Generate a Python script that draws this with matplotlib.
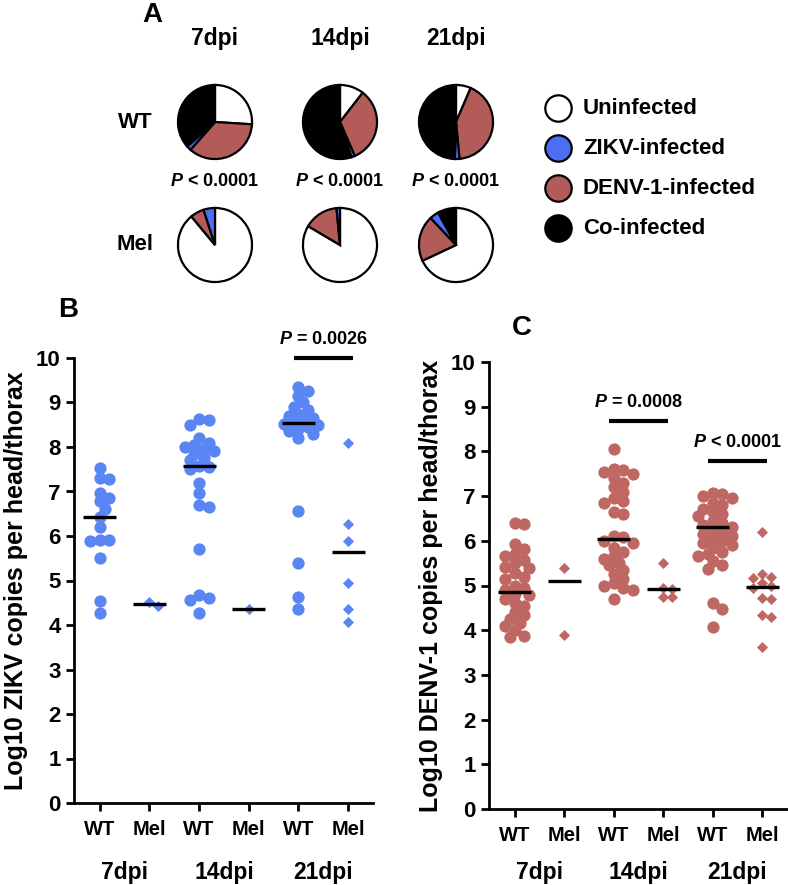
import numpy as np
import matplotlib
matplotlib.use('Agg')
import matplotlib.pyplot as plt

plt.rcParams['font.family'] = ['Liberation Sans', 'DejaVu Sans']
plt.rcParams['font.weight'] = 'bold'
plt.rcParams['axes.labelweight'] = 'bold'
plt.rcParams['mathtext.fontset'] = 'custom'
plt.rcParams['mathtext.bfit'] = 'Liberation Sans:italic:bold'

# ---- data ----
days = ['7dpi', '14dpi', '21dpi']
groups = ['WT', 'Mel', 'WT', 'Mel', 'WT', 'Mel']
pie_labels = ['Uninfected', 'ZIKV-infected', 'DENV-1-infected', 'Co-infected']

# pie fractions, clockwise from top: uninfected, DENV-1, ZIKV, co-infected
wt_pies = [[0.26, 0.355, 0.02, 0.365],
           [0.105, 0.33, 0.015, 0.55],
           [0.065, 0.42, 0.02, 0.495]]
mel_pies = [[0.89, 0.06, 0.05, 0.0],
            [0.835, 0.15, 0.015, 0.0],
            [0.68, 0.20, 0.04, 0.08]]
pie_p = ['< 0.0001', '< 0.0001', '< 0.0001']

zikv_wt_7 = [7.52, 7.30, 7.28, 6.97, 6.85, 6.78, 6.60, 6.42, 6.20, 5.92, 5.88, 5.90, 5.50, 4.55, 4.28]
zikv_mel_7 = [4.42, 4.52]
zikv_wt_14 = [8.62, 8.60, 8.50, 8.20, 8.10, 8.05, 8.00, 7.95, 7.90, 7.85, 7.75, 7.70, 7.57, 7.55,
              7.50, 7.20, 6.97, 6.70, 6.65, 5.71, 4.68, 4.60, 4.56, 4.28]
zikv_mel_14 = [4.37]
zikv_wt_21 = [9.35, 9.26, 9.15, 9.00, 8.90, 8.83, 8.75, 8.70, 8.65, 8.60, 8.55, 8.52, 8.50, 8.45,
              8.40, 8.35, 8.30, 8.20, 6.57, 5.40, 4.62, 4.35]
zikv_mel_21 = [8.08, 6.27, 5.89, 4.95, 4.36, 4.07]
zikv_lines = [6.42, 4.47, 7.57, 4.37, 8.54, 5.64]

denv_wt_7 = [6.39, 6.37, 5.93, 5.82, 5.70, 5.65, 5.58, 5.50, 5.42, 5.40, 5.28, 5.18, 5.15, 5.00,
             4.95, 4.90, 4.80, 4.78, 4.70, 4.60, 4.55, 4.40, 4.35, 4.25, 4.15, 4.10, 4.00, 3.88, 3.85]
denv_mel_7 = [5.39, 3.89]
denv_wt_14 = [8.05, 7.60, 7.58, 7.55, 7.50, 7.40, 7.30, 7.20, 7.10, 6.95, 6.90, 6.85, 6.65, 6.60,
              6.10, 6.08, 6.00, 5.95, 5.85, 5.75, 5.65, 5.60, 5.50, 5.45, 5.35, 5.25, 5.15, 5.05,
              5.00, 4.95, 4.90, 4.70]
denv_mel_14 = [5.50, 4.95, 4.93, 4.75, 4.74]
denv_wt_21 = [7.08, 7.05, 7.00, 6.95, 6.85, 6.80, 6.72, 6.65, 6.60, 6.55, 6.45, 6.40, 6.35, 6.30,
              6.25, 6.20, 6.15, 6.10, 6.05, 6.00, 5.95, 5.90, 5.85, 5.75, 5.70, 5.65, 5.55, 5.45,
              5.38, 4.60, 4.48, 4.07]
denv_mel_21 = [6.19, 5.26, 5.20, 5.17, 5.05, 5.00, 4.95, 4.72, 4.70, 4.34, 4.30, 3.62]
denv_lines = [4.85, 5.10, 6.04, 4.92, 6.31, 4.97]

zikv_p = [(4, 'P = 0.0026', 10.0)]
denv_p = [(2, 'P = 0.0008', 8.68), (4, 'P < 0.0001', 7.78)]

# ---- style ----
W, H = 788, 885
c_white, c_zikv, c_denv, c_co = 'white', '#4b6ef5', '#b35b58', 'black'
pie_colors = [c_white, c_denv, c_zikv, c_co]
dot_zikv = '#5a86f3'
dot_denv = '#bf6863'

fig = plt.figure(figsize=(W / 100, H / 100), dpi=100)


def px_axes(x0, y0, x1, y1):
    # pixel box (top-left origin) -> figure axes
    return fig.add_axes([x0 / W, 1 - y1 / H, (x1 - x0) / W, (y1 - y0) / H])


def ftext(x, y, s, **kw):
    fig.text(x / W, 1 - y / H, s, ha=kw.pop('ha', 'center'), va=kw.pop('va', 'center'), **kw)


# ---- panel A: pies ----
pie_x = [215, 340, 456]
for i in range(3):
    for cy, fr in [(122, wt_pies[i]), (245, mel_pies[i])]:
        ax = px_axes(pie_x[i] - 40, cy - 40, pie_x[i] + 40, cy + 40)
        vals = [f for f in fr if f > 0]
        cols = [c for f, c in zip(fr, pie_colors) if f > 0]
        ax.pie(vals, colors=cols, startangle=90, counterclock=False,
               wedgeprops=dict(edgecolor='black', linewidth=1.6))
        ax.set_xlim(-1.08, 1.08)
        ax.set_ylim(-1.08, 1.08)
        ax.axis('off')
    ftext(pie_x[i], 38, days[i], fontsize=16.5)
    ftext(pie_x[i], 182, r'$\mathbfit{P}$ ' + pie_p[i], fontsize=13)
ftext(135, 122, 'WT', fontsize=16)
ftext(135, 245, 'Mel', fontsize=16)
ftext(152, 15, 'A', fontsize=20)

# legend
lax = px_axes(530, 80, 788, 250)
lax.set_xlim(530, 788)
lax.set_ylim(250, 80)
lax.axis('off')
leg_y = [108, 148, 188, 228]
for lab, col, yy in zip(pie_labels, [c_white, c_zikv, c_denv, c_co], leg_y):
    lax.scatter([558], [yy], s=19 ** 2, color=col, edgecolor='black', linewidth=1.6,
                clip_on=False)
    lax.text(583, yy, lab, ha='left', va='center', fontsize=16)


# ---- panels B & C ----
def swarm(vals, sx, sy, d):
    vals = np.asarray(vals, float)
    offs = np.zeros(len(vals))
    placed = []
    cands = [0.0]
    for j in range(1, 12):
        cands += [j * 0.4 * d, -j * 0.4 * d]
    for k in np.argsort(-vals):
        y = vals[k] * sy
        for c in cands:
            if all((c - px) ** 2 + (y - py) ** 2 >= (0.68 * d) ** 2 for px, py in placed):
                break
        placed.append((c, y))
        offs[k] = c / sx
    return offs


def scatter_panel(ax, series, lines, color, ylabel, pvals, group_y):
    sx, sy = 49.7, 44.6
    for i, vals in enumerate(series):
        mk = 'o' if i % 2 == 0 else 'D'
        s = 78 if mk == 'o' else 32
        off = swarm(vals, sx, sy, 12 if mk == 'o' else 11)
        ax.scatter(i + off, vals, s=s, marker=mk, color=color, linewidth=0, zorder=2,
                   clip_on=False)
        ax.hlines(lines[i], i - 0.33, i + 0.33, color='black', linewidth=2.4, zorder=3)
    ax.set_xlim(-0.52, 5.5)
    ax.set_ylim(0, 10)
    ax.set_yticks(range(0, 11))
    ax.set_xticks(range(6))
    ax.set_xticklabels(groups)
    for sp in ['top', 'right']:
        ax.spines[sp].set_visible(False)
    for sp in ['left', 'bottom']:
        ax.spines[sp].set_linewidth(2)
    ax.tick_params(width=2, length=6, labelsize=16, direction='out')
    ax.tick_params(axis='x', labelsize=14.5, pad=6)
    ax.set_ylabel(ylabel, fontsize=18, fontweight='bold')
    ax.yaxis.set_label_coords(-0.155, 0.5)
    for j, d in enumerate(days):
        ax.text(2 * j + 0.5, group_y, d, transform=ax.get_xaxis_transform(), ha='center',
                va='center', fontsize=16.5)
    for i, txt, yb in pvals:
        ax.plot([i - 0.1, i + 1.1], [yb, yb], color='black', linewidth=3, clip_on=False,
                solid_capstyle='butt')
        ax.text(i + 0.5, yb + 0.22, r'$\mathbfit{P}$' + txt[1:], ha='center', va='bottom',
                fontsize=13, clip_on=False)


axB = px_axes(74, 358, 373, 803)
scatter_panel(axB, [zikv_wt_7, zikv_mel_7, zikv_wt_14, zikv_mel_14, zikv_wt_21, zikv_mel_21],
              zikv_lines, dot_zikv, 'Log10 ZIKV copies per head/thorax', zikv_p, -70 / 445)
axC = px_axes(489, 362, 787, 809)
scatter_panel(axC, [denv_wt_7, denv_mel_7, denv_wt_14, denv_mel_14, denv_wt_21, denv_mel_21],
              denv_lines, dot_denv, 'Log10 DENV-1 copies per head/thorax', denv_p, -64 / 447)

ftext(68, 310, 'B', fontsize=20)
ftext(522, 328, 'C', fontsize=20)

fig.savefig('out.png', dpi=100)
